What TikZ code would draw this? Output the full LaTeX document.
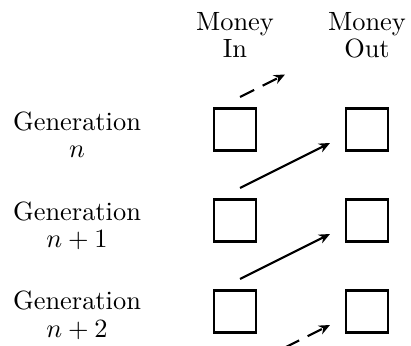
\documentclass[tikz,border=0pt]{standalone}
\usetikzlibrary{arrows.meta}
\begin{document}
\begin{tikzpicture}[
  x=0.3788pt, y=-0.3788pt,
  every node/.style={font=\fontsize{10}{10.3}\selectfont},
  label/.style={align=center, anchor=base, inner sep=0pt},
  cell/.style={draw, line width=0.8pt, minimum size=15.9pt, inner sep=0pt},
  flow/.style={line width=0.8pt, -{Stealth[length=4.2pt,width=3.6pt]}},
  partial/.style={flow, dash pattern=on 6pt off 3.6pt}
]
\useasboundingbox (0,0) rectangle (411,346);

% column headings (placed at the baseline of their last line)
\node[label] (hin)  at (235,58) {Money\\In};
\node[label] (hout) at (367,58) {Money\\Out};

% generation labels
\node[label] (g0) at (77,158) {Generation\\$n$};
\node[label] (g1) at (77,247.5) {Generation\\$n+1$};
\node[label] (g2) at (77,337) {Generation\\$n+2$};

% money in / money out cells
\node[cell] (in0)  at (235,129.5) {};
\node[cell] (out0) at (367,129.5) {};
\node[cell] (in1)  at (235,220.5) {};
\node[cell] (out1) at (367,220.5) {};
\node[cell] (in2)  at (235,311.5) {};
\node[cell] (out2) at (367,311.5) {};

% flow from each generation's money in to the next generation's money out
\coordinate (a0) at (240,97);
\coordinate (b0) at (285,74.5);
\coordinate (a1) at (240,188);
\coordinate (b1) at (330,143);
\coordinate (a2) at (240,279);
\coordinate (b2) at (330,234);
\coordinate (a3) at (285,347.5);
\coordinate (b3) at (330,325);

\draw[partial] (a0) -- (b0);
\draw[flow] (a1) -- (b1);
\draw[flow] (a2) -- (b2);
\draw[partial] (a3) -- (b3);
\end{tikzpicture}
\end{document}
